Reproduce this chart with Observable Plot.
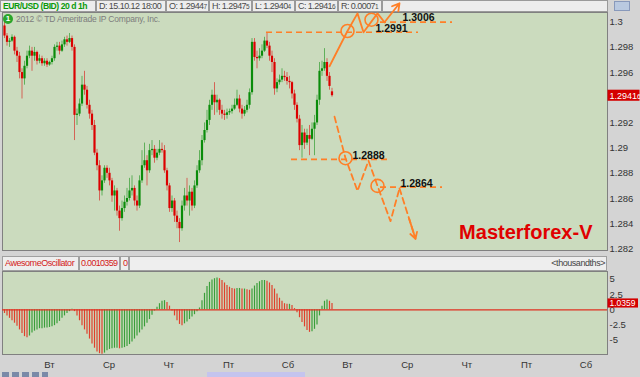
<!DOCTYPE html>
<html><head><meta charset="utf-8">
<script src="https://cdn.jsdelivr.net/npm/d3@7"></script>
<script src="https://cdn.jsdelivr.net/npm/@observablehq/plot@0.6"></script>
<style>
body{margin:0;background:#d4d4d4;font-family:Arial,"Liberation Sans",sans-serif;}
#wrap{position:relative;width:640px;height:377px;overflow:hidden;background:#d4d4d4;}
.box{position:absolute;top:0;box-sizing:border-box;height:12px;border:1px solid #9a9a9a;background:#ededed;font-size:9px;line-height:10px;color:#4a4a4a;padding:0 1px 0 2px;white-space:nowrap;letter-spacing:-0.55px;overflow:hidden}
.sm{font-size:6.5px}
.obox{position:absolute;top:256px;box-sizing:border-box;height:15px;border:1px solid #a0a0a0;background:#eeeeee;font-size:9px;line-height:13px;color:#d42020;padding:0 1px 0 2px;white-space:nowrap;letter-spacing:-0.45px;overflow:hidden}
#main,#osc{position:absolute;left:0}
#main{top:0}
#osc{top:271px}
</style></head>
<body><div id="wrap">
  <div class="box" style="left:0;width:96px;color:#0a9a0a;font-weight:bold;font-size:8.6px;letter-spacing:-0.45px">EUR/USD (BID) 20 d 1h</div>
  <div class="box" style="left:96px;width:70px">D: 15.10.12 18:00</div>
  <div class="box" style="left:166px;width:43px" id="hO"></div>
  <div class="box" style="left:209px;width:43px" id="hH"></div>
  <div class="box" style="left:252px;width:43px" id="hL"></div>
  <div class="box" style="left:295px;width:43px" id="hC"></div>
  <div class="box" style="left:338px;width:44px" id="hR"></div>
  <div class="box" style="left:382px;width:226px"></div>
  <div style="position:absolute;left:614px;top:1px;width:16px;height:10px;background:#b9c9e0;border:1px solid #8899bb;box-sizing:border-box"></div>
  <div class="obox" style="left:2px;width:77px">AwesomeOscillator</div>
  <div class="obox" style="left:79px;width:41px;letter-spacing:-0.7px;padding-left:1px" id="aoVal"></div>
  <div class="obox" style="left:120px;width:9px">0</div>
  <div class="obox" style="left:129px;width:478px;color:#444;text-align:right">&lt;thousandths&gt;</div>
  <div style="position:absolute;left:2px;top:372px;width:46px;height:5px;background:repeating-linear-gradient(90deg,#7a8aa8 0 7px,#d4d4d4 7px 10px)"></div>
  <div style="position:absolute;left:207px;top:372px;width:98px;height:5px;background:#c4c4ee"></div>
  <div id="main"></div>
  <div id="osc"></div>
  <div style="position:absolute;left:3px;top:14px;width:10px;height:10px;border-radius:50%;background:#2aa52a;color:#fff;font-size:8px;line-height:10px;text-align:center;font-weight:bold">1</div>
  <div style="position:absolute;left:16px;top:14px;font-size:8.5px;line-height:10px;color:#7d7d7d;letter-spacing:-0.2px">2012 © TD Ameritrade IP Company, Inc.</div>
</div>
<script>
// ---- Price data (hourly candles, EUR/USD) ----
const opens = [1.2997,1.2989,1.2984,1.2985,1.2988,1.2977,1.2973,1.2960,1.2955,1.2965,
1.2973,1.2977,1.2973,1.2976,1.2969,1.2971,1.2967,1.2969,1.2966,1.2968,
1.2971,1.2980,1.2981,1.2977,1.2982,1.2986,1.2984,1.2987,1.2980,1.2926,
1.2927,1.2935,1.2950,1.2946,1.2934,1.2927,1.2918,1.2896,1.2886,1.2866,
1.2874,1.2884,1.2880,1.2874,1.2862,1.2866,1.2850,1.2844,1.2852,1.2857,
1.2860,1.2866,1.2868,1.2858,1.2854,1.2874,1.2886,1.2890,1.2882,1.2898,
1.2899,1.2892,1.2896,1.2899,1.2898,1.2882,1.2870,1.2852,1.2858,1.2846,
1.2841,1.2836,1.2854,1.2862,1.2858,1.2865,1.2854,1.2870,1.2882,1.2890,
1.2906,1.2914,1.2922,1.2934,1.2942,1.2936,1.2938,1.2930,1.2927,1.2926,
1.2928,1.2929,1.2931,1.2934,1.2939,1.2931,1.2927,1.2930,1.2934,1.2944,
1.2984,1.2972,1.2971,1.2973,1.2977,1.2985,1.2981,1.2973,1.2968,1.2947,
1.2952,1.2954,1.2957,1.2956,1.2953,1.2952,1.2943,1.2934,1.2923,1.2902,
1.2912,1.2904,1.2910,1.2907,1.2915,1.2920,1.2938,1.2961,1.2963,1.2968,
1.2957,1.29447];
const highs = [1.3000,1.2991,1.2987,1.2990,1.2989,1.2980,1.2976,1.2963,1.2969,1.2977,
1.2981,1.2980,1.2980,1.2977,1.2974,1.2973,1.2971,1.2971,1.2969,1.2973,
1.2982,1.2984,1.2984,1.2985,1.2988,1.2989,1.2991,1.2989,1.2982,1.2931,
1.2939,1.2957,1.2961,1.2949,1.2938,1.2930,1.2922,1.2899,1.2890,1.2878,
1.2886,1.2886,1.2884,1.2876,1.2870,1.2868,1.2854,1.2858,1.2862,1.2868,
1.2876,1.2878,1.2870,1.2862,1.2878,1.2898,1.2904,1.2894,1.2903,1.2906,
1.2902,1.2899,1.2906,1.2904,1.2902,1.2884,1.2872,1.2862,1.2860,1.2850,
1.2844,1.2858,1.2868,1.2876,1.2870,1.2868,1.2874,1.2886,1.2898,1.2910,
1.2920,1.2930,1.2938,1.2946,1.2952,1.2942,1.2939,1.2934,1.2930,1.2931,
1.2931,1.2934,1.2939,1.2946,1.2942,1.2934,1.2933,1.2938,1.2947,1.2987,
1.2987,1.2977,1.2979,1.2982,1.2988,1.2991,1.2984,1.2977,1.2971,1.2955,
1.2958,1.2963,1.2961,1.2960,1.2957,1.2953,1.2946,1.2936,1.2926,1.2918,
1.2915,1.2915,1.2918,1.2920,1.2926,1.2942,1.2968,1.2969,1.2979,1.2971,
1.2960,1.29475];
const lows = [1.2987,1.2981,1.2980,1.2984,1.2974,1.2968,1.2955,1.2939,1.2950,1.2963,
1.2971,1.2961,1.2969,1.2966,1.2967,1.2965,1.2965,1.2964,1.2965,1.2966,
1.2969,1.2977,1.2974,1.2976,1.2980,1.2981,1.2983,1.2977,1.2906,1.2918,
1.2925,1.2933,1.2942,1.2931,1.2923,1.2914,1.2894,1.2882,1.2858,1.2862,
1.2872,1.2876,1.2870,1.2857,1.2850,1.2846,1.2834,1.2842,1.2849,1.2854,
1.2858,1.2862,1.2854,1.2850,1.2852,1.2872,1.2884,1.2870,1.2880,1.2894,
1.2888,1.2890,1.2894,1.2896,1.2880,1.2866,1.2849,1.2849,1.2841,1.2836,
1.2825,1.2834,1.2850,1.2854,1.2846,1.2850,1.2852,1.2868,1.2880,1.2886,
1.2904,1.2912,1.2918,1.2930,1.2926,1.2928,1.2926,1.2923,1.2922,1.2923,
1.2926,1.2927,1.2930,1.2933,1.2928,1.2923,1.2925,1.2928,1.2931,1.2942,
1.2969,1.2963,1.2969,1.2971,1.2976,1.2979,1.2969,1.2960,1.2942,1.2944,
1.2950,1.2952,1.2953,1.2950,1.2947,1.2939,1.2930,1.2920,1.2898,1.2892,
1.2899,1.2902,1.2894,1.2906,1.2894,1.2918,1.2934,1.2957,1.2961,1.2953,
1.2946,1.29404];
const closes = [1.2989,1.2984,1.2985,1.2988,1.2977,1.2973,1.2960,1.2955,1.2965,1.2973,
1.2977,1.2973,1.2976,1.2969,1.2971,1.2967,1.2969,1.2966,1.2968,1.2971,
1.2980,1.2981,1.2977,1.2982,1.2986,1.2984,1.2987,1.2980,1.2926,1.2927,
1.2935,1.2950,1.2946,1.2934,1.2927,1.2918,1.2896,1.2886,1.2866,1.2874,
1.2884,1.2880,1.2874,1.2862,1.2866,1.2850,1.2844,1.2852,1.2857,1.2860,
1.2866,1.2868,1.2858,1.2854,1.2874,1.2886,1.2890,1.2882,1.2898,1.2899,
1.2892,1.2896,1.2899,1.2898,1.2882,1.2870,1.2852,1.2858,1.2846,1.2841,
1.2836,1.2854,1.2862,1.2858,1.2865,1.2854,1.2870,1.2882,1.2890,1.2906,
1.2914,1.2922,1.2934,1.2942,1.2936,1.2938,1.2930,1.2927,1.2926,1.2928,
1.2929,1.2931,1.2934,1.2939,1.2931,1.2927,1.2930,1.2934,1.2944,1.2984,
1.2972,1.2971,1.2973,1.2977,1.2985,1.2981,1.2973,1.2968,1.2947,1.2952,
1.2954,1.2957,1.2956,1.2953,1.2952,1.2943,1.2934,1.2923,1.2902,1.2912,
1.2904,1.2910,1.2907,1.2915,1.2920,1.2938,1.2961,1.2963,1.2968,1.2957,
1.2949,1.29416];

// ---- Awesome Oscillator (thousandths) ----
const aoValues = [-0.6,-1.0,-1.4,-1.8,-2.2,-2.7,-3.3,-3.9,-4.4,-4.6,
-4.3,-3.8,-3.5,-3.3,-3.1,-3.1,-3.0,-3.0,-2.9,-2.8,
-2.6,-2.3,-1.9,-1.4,-1.0,-0.6,-0.3,0.1,-0.3,-1.0,
-1.8,-2.6,-3.3,-4.0,-4.8,-5.6,-6.3,-6.9,-7.2,-7.3,
-7.1,-6.7,-6.5,-6.4,-6.3,-6.3,-6.4,-6.3,-6.2,-6.0,
-5.7,-5.3,-4.8,-4.3,-3.8,-3.3,-2.8,-2.2,-1.6,-0.9,
-0.2,0.4,1.0,1.4,1.5,1.2,0.6,-0.2,-1.0,-1.8,
-2.4,-2.6,-2.3,-2.0,-1.6,-1.2,-0.8,-0.3,0.3,1.5,
2.7,3.8,4.5,4.9,5.1,5.2,5.1,4.8,4.4,4.0,
3.7,3.5,3.4,3.5,3.5,3.4,3.4,3.3,3.2,3.4,
3.9,4.3,4.6,4.8,4.8,4.7,4.4,4.0,3.4,2.6,
1.9,1.4,1.0,0.9,0.9,0.7,0.2,-0.5,-1.3,-2.1,
-2.8,-3.4,-3.7,-3.6,-3.2,-2.5,-1.0,0.6,1.4,1.6,
1.4,1.0359];

// ---- Axes ----
const priceTicks = [1.282,1.284,1.286,1.288,1.29,1.292,1.296,1.298,1.3];
const aoTicks = [-5,-2.5,0,2.5,5];
const dayTicks = [18,41.8,65.7,89.6,113.4,137.2,161.1,184.9,208.8,232.6]; // hours since first bar
const dayLabels = ["Вт","Ср","Чт","Пт","Сб","Вт","Ср","Чт","Пт","Сб"];

// ---- Hand-drawn annotations (hour, price) ----
const upHours  = [130,137.2,141.2,143.6,149.2,152,158];
const upPrices = [1.2965,1.2993,1.3007,1.2992,1.3007,1.3000,1.3015];
const downHours  = [132,136.4,141.2,145.6,149.2,154.4,158,164.4];
const downPrices = [1.2925,1.2892,1.2866,1.2890,1.2870,1.2842,1.2868,1.2828];
const circleHours  = [137.2,146.8,136.4,149.2];
const circlePrices = [1.2993,1.3002,1.2892,1.2870];
const levelPrices = [1.2992,1.3000,1.2891,1.2869];
const levelFrom   = [104.8,150.4,114.8,150.4];
const levelTo     = [165.6,179.2,153.2,175.2];
const labelTexts  = ["1.2991","1.3006","1.2888","1.2864"];
const labelHours  = [148.4,159.2,139.2,158.4];
const labelPrices = [1.2995,1.3004,1.2894,1.2872];

const RED = "#dc0000", GREEN = "#0a8c0a", OR = "#ff7f27", BG = "#cbdbbe";
const AO_RED = "#e0402c", AO_GREEN = "#3a9e3a";
const xDomain = [-0.8, 241.2];

const bars = closes.map((c, i) => ({i, o: opens[i], h: highs[i], l: lows[i], c}));
const last = bars[bars.length - 1];
const ao = aoValues.map((v, i) => ({i, v, up: i > 0 && v >= aoValues[i - 1]}));
const aoLast = ao[ao.length - 1];
const up = upHours.map((h, k) => ({h, p: upPrices[k]}));
const down = downHours.map((h, k) => ({h, p: downPrices[k]}));
const circles = circleHours.map((h, k) => ({h, p: circlePrices[k]}));
const levels = levelPrices.map((p, k) => ({p, a: levelFrom[k], b: levelTo[k]}));
const labels = labelTexts.map((t, k) => ({t, h: labelHours[k], p: labelPrices[k]}));
const lastSeg = (pts, f) => { const a = pts[pts.length - 2], b = pts[pts.length - 1];
  return [{x1: a.h + (b.h - a.h) * f, y1: a.p + (b.p - a.p) * f, x2: b.h, y2: b.p}]; };

// header values
const fmt5 = v => v.toFixed(5);
const splitLast = s => s.slice(0, -1) + '<span class="sm">' + s.slice(-1) + '</span>';
document.getElementById("hO").innerHTML = "O: " + splitLast(fmt5(last.o));
document.getElementById("hH").innerHTML = "H: " + splitLast(fmt5(last.h));
document.getElementById("hL").innerHTML = "L: " + splitLast(fmt5(last.l));
document.getElementById("hC").innerHTML = "C: " + splitLast(fmt5(last.c));
document.getElementById("hR").innerHTML = "R: " + splitLast(fmt5(last.h - last.l));
document.getElementById("aoVal").textContent = (aoLast.v / 1000).toFixed(7);

const style = {background: "transparent", overflow: "visible", fontFamily: "Arial, 'Liberation Sans', sans-serif", fontSize: "9.5px", color: "#333"};

const main = Plot.plot({
  width: 640, height: 253,
  marginTop: 12, marginBottom: 3, marginLeft: 2, marginRight: 33,
  x: {domain: xDomain, axis: null},
  y: {domain: [1.28187, 1.30077], axis: "right", ticks: priceTicks, tickSize: 0, tickPadding: 2,
      tickFormat: d => String(+d.toFixed(3)), label: null},
  style,
  marks: [
    Plot.frame({fill: BG, stroke: "#808080"}),
    Plot.ruleX(bars, {filter: d => d.c >= d.o, x: "i", y1: "l", y2: "h", stroke: GREEN, strokeOpacity: 0.55}),
    Plot.ruleX(bars, {filter: d => d.c < d.o, x: "i", y1: "l", y2: "h", stroke: RED, strokeOpacity: 0.55}),
    Plot.ruleX(bars, {filter: d => d.c >= d.o, x: "i", y1: "o", y2: "c", stroke: GREEN, strokeWidth: 2.2}),
    Plot.ruleX(bars, {filter: d => d.c < d.o, x: "i", y1: "o", y2: "c", stroke: RED, strokeWidth: 2.2}),
    Plot.ruleY(levels, {y: "p", x1: "a", x2: "b", stroke: OR, strokeWidth: 1.7, strokeDasharray: "6,4"}),
    Plot.line(up.slice(0, -1), {x: "h", y: "p", stroke: OR, strokeWidth: 1.8}),
    Plot.arrow(lastSeg(up, 0), {x1: "x1", y1: "y1", x2: "x2", y2: "y2", stroke: OR, strokeWidth: 1.8, headLength: 8}),
    Plot.line(down.slice(0, -1), {x: "h", y: "p", stroke: OR, strokeWidth: 1.8, strokeDasharray: "6,4"}),
    Plot.line(down.slice(-2), {x: "h", y: "p", stroke: OR, strokeWidth: 1.8, strokeDasharray: "6,4"}),
    Plot.arrow(lastSeg(down, 0.6), {x1: "x1", y1: "y1", x2: "x2", y2: "y2", stroke: OR, strokeWidth: 1.8, headLength: 8}),
    Plot.dot(circles, {x: "h", y: "p", r: 6.5, stroke: OR, strokeWidth: 1.6, fill: "none"}),
    Plot.text(labels, {x: "h", y: "p", text: "t", textAnchor: "start", fontSize: 10.5, fontWeight: "bold", fill: "#111"}),
    Plot.text(["Masterforex-V"], {frameAnchor: "bottom-right", dx: -15, dy: -12, fontSize: 20, fontWeight: "bold", fill: "#e00000"}),
    Plot.rect([last], {x1: () => xDomain[1] + 0.2, x2: () => xDomain[1] + 13, y1: d => d.c - 0.00044, y2: d => d.c + 0.00044, fill: "#d40000"}),
    Plot.text([last], {x: () => xDomain[1], y: "c", text: d => fmt5(d.c), dx: 2, textAnchor: "start", fill: "white", fontSize: 9})
  ]
});
document.getElementById("main").appendChild(main);

const osc = Plot.plot({
  width: 640, height: 99,
  marginTop: 0, marginBottom: 16, marginLeft: 2, marginRight: 33,
  x: {domain: xDomain, axis: "bottom", ticks: dayTicks, tickSize: 0, tickPadding: 7,
      tickFormat: d => dayLabels[dayTicks.indexOf(d)], label: null},
  y: {domain: [-7.33, 6.28], axis: "right", ticks: aoTicks, tickSize: 0, tickPadding: 2,
      tickFormat: d => String(d), label: null},
  style,
  marks: [
    Plot.frame({fill: BG, stroke: "#808080"}),
    Plot.ruleX(ao, {filter: d => d.up, x: "i", y1: 0, y2: "v", stroke: AO_GREEN, strokeWidth: 1.2}),
    Plot.ruleX(ao, {filter: d => !d.up, x: "i", y1: 0, y2: "v", stroke: AO_RED, strokeWidth: 1.2}),
    Plot.ruleY([0], {stroke: "#e03020", strokeWidth: 1.2}),
    Plot.rect([aoLast], {x1: () => xDomain[1] + 0.2, x2: () => xDomain[1] + 12.4, y1: d => d.v - 0.75, y2: d => d.v + 0.75, fill: "#d40000"}),
    Plot.text([aoLast], {x: () => xDomain[1], y: "v", text: d => d.v.toFixed(4), dx: 2, textAnchor: "start", fill: "white", fontSize: 8.5})
  ]
});
document.getElementById("osc").appendChild(osc);

// smaller last digit in the price tag
const tag = fmt5(last.c);
main.querySelectorAll("text").forEach(t => {
  if (t.textContent === tag) {
    t.textContent = tag.slice(0, -1);
    const ts = document.createElementNS("http://www.w3.org/2000/svg", "tspan");
    ts.setAttribute("font-size", "7");
    ts.textContent = tag.slice(-1);
    t.appendChild(ts);
  }
});
</script>
</body></html>
